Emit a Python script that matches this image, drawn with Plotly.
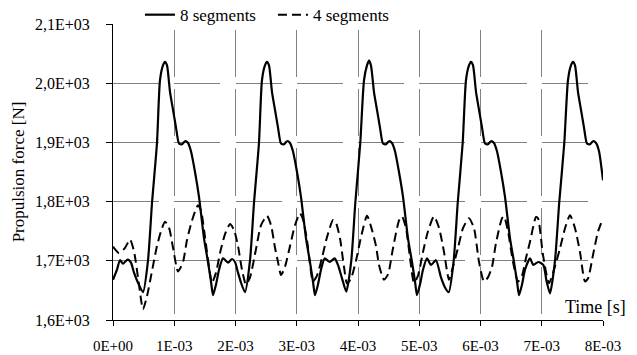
import plotly.graph_objects as go

# ---------------- data (time in ms, force in N) ----------------
t8_ms = [0.000, 0.065, 0.114, 0.163, 0.212, 0.245, 0.294, 0.343, 0.408, 0.490,
         0.571, 0.637, 0.718, 0.767, 0.816, 0.849,
         0.882, 0.931, 0.980, 1.029, 1.078, 1.127, 1.176, 1.225, 1.273, 1.339,
         1.404, 1.486, 1.551, 1.600, 1.633, 1.682, 1.731, 1.796, 1.878, 1.943,
         1.992, 2.041, 2.090, 2.155, 2.236, 2.302, 2.383, 2.432, 2.481, 2.514,
         2.547, 2.596, 2.645, 2.694, 2.743, 2.792, 2.841, 2.890, 2.938, 3.004,
         3.069, 3.151, 3.216, 3.265, 3.298, 3.347, 3.396, 3.456, 3.538, 3.619,
         3.673, 3.740, 3.809, 3.890, 3.956, 4.037, 4.098, 4.147, 4.180,
         4.212, 4.261, 4.310, 4.359, 4.408, 4.457, 4.506, 4.555, 4.604, 4.669,
         4.735, 4.816, 4.882, 4.931, 4.963, 5.012, 5.061, 5.127, 5.192, 5.273,
         5.355, 5.420, 5.481, 5.562, 5.628, 5.709, 5.763, 5.812, 5.845,
         5.878, 5.927, 5.976, 6.025, 6.074, 6.123, 6.171, 6.220, 6.269, 6.335,
         6.400, 6.482, 6.547, 6.596, 6.629, 6.678, 6.727, 6.808, 6.862, 6.944,
         7.025, 7.080, 7.135, 7.216, 7.285, 7.368, 7.428, 7.477, 7.510,
         7.543, 7.592, 7.641, 7.690, 7.739, 7.788, 7.837, 7.886, 7.935, 8.000]
f8 = [1668, 1685, 1701, 1695, 1700, 1702, 1697, 1680, 1663, 1647,
      1700, 1798, 1899, 2005, 2030, 2036,
      2030, 1985, 1955, 1925, 1898, 1897, 1902, 1899, 1885, 1850,
      1808, 1738, 1698, 1665, 1642, 1660, 1685, 1704, 1697, 1703,
      1698, 1680, 1663, 1647, 1700, 1798, 1899, 2005, 2030, 2036,
      2030, 1985, 1955, 1925, 1898, 1897, 1902, 1899, 1885, 1850,
      1808, 1738, 1698, 1665, 1642, 1660, 1685, 1704, 1698, 1704,
      1693, 1670, 1648, 1700, 1798, 1899, 2005, 2030, 2038,
      2030, 1985, 1955, 1925, 1898, 1897, 1902, 1899, 1885, 1850,
      1808, 1738, 1698, 1665, 1642, 1660, 1685, 1704, 1693, 1701,
      1672, 1655, 1647, 1700, 1798, 1899, 2005, 2030, 2036,
      2030, 1985, 1955, 1925, 1898, 1897, 1902, 1899, 1885, 1850,
      1808, 1738, 1698, 1665, 1642, 1660, 1685, 1704, 1693, 1698,
      1693, 1665, 1645, 1700, 1798, 1899, 2005, 2030, 2036,
      2030, 1985, 1955, 1925, 1898, 1897, 1902, 1899, 1885, 1836]

t4_ms = [0.000, 0.098, 0.196, 0.278, 0.343, 0.424, 0.490, 0.555, 0.637, 0.718,
         0.784, 0.849, 0.914, 0.980, 1.061, 1.143, 1.208, 1.290, 1.388, 1.437,
         1.502, 1.567, 1.616, 1.682, 1.747, 1.829, 1.910, 1.976, 2.041, 2.106,
         2.171, 2.237, 2.335, 2.416, 2.514, 2.580, 2.645, 2.694, 2.743, 2.808,
         2.890, 2.971, 3.053, 3.102, 3.167, 3.216, 3.265, 3.331, 3.412, 3.494,
         3.592, 3.641, 3.706, 3.771, 3.820, 3.886, 3.967, 4.049, 4.147, 4.229,
         4.294, 4.343, 4.424, 4.490, 4.571, 4.669, 4.718, 4.784, 4.849, 4.914,
         4.980, 5.061, 5.143, 5.241, 5.322, 5.404, 5.486, 5.551, 5.633, 5.714,
         5.812, 5.894, 5.976, 6.057, 6.122, 6.188, 6.253, 6.351, 6.384, 6.449,
         6.531, 6.612, 6.678, 6.743, 6.808, 6.906, 6.939, 7.020, 7.118, 7.200,
         7.298, 7.380, 7.461, 7.543, 7.624, 7.706, 7.755, 7.837, 7.918, 8.000]
f4 = [1724, 1713, 1722, 1736, 1716, 1660, 1618, 1640, 1683, 1725,
      1750, 1766, 1756, 1722, 1682, 1698, 1735, 1768, 1794, 1785,
      1740, 1690, 1663, 1680, 1713, 1745, 1762, 1752, 1725, 1685,
      1660, 1672, 1720, 1760, 1776, 1760, 1722, 1698, 1676, 1690,
      1725, 1760, 1780, 1770, 1735, 1695, 1665, 1675, 1705, 1740,
      1769, 1764, 1738, 1690, 1662, 1670, 1700, 1740, 1776, 1752,
      1725, 1693, 1668, 1677, 1721, 1768, 1775, 1755, 1705, 1663,
      1675, 1715, 1750, 1775, 1756, 1715, 1668, 1690, 1722, 1755,
      1772, 1755, 1698, 1665, 1672, 1690, 1730, 1772, 1775, 1750,
      1698, 1665, 1675, 1705, 1732, 1774, 1772, 1710, 1662, 1685,
      1721, 1755, 1777, 1755, 1715, 1665, 1670, 1710, 1749, 1772]

x_tickvals_ms = [0, 1, 2, 3, 4, 5, 6, 7, 8]
x_ticktext = ["0E+00", "1E-03", "2E-03", "3E-03", "4E-03", "5E-03", "6E-03", "7E-03", "8E-03"]
y_tickvals = [1600, 1700, 1800, 1900, 2000, 2100]
y_ticktext = ["1,6E+03", "1,7E+03", "1,8E+03", "1,9E+03", "2,0E+03", "2,1E+03"]
series_names = ["8 segments", "4 segments"]

# ---------------- figure ----------------
t8 = [v * 1e-3 for v in t8_ms]
t4 = [v * 1e-3 for v in t4_ms]
xt = [v * 1e-3 for v in x_tickvals_ms]

FONT = "Liberation Serif"

fig = go.Figure()
fig.add_trace(go.Scatter(x=t8, y=f8, mode="lines", name=series_names[0],
                         line=dict(color="black", width=2.2, shape="spline", smoothing=0.6)))
fig.add_trace(go.Scatter(x=t4, y=f4, mode="lines", name=series_names[1],
                         line=dict(color="black", width=2.0, dash="9px,5px",
                                   shape="spline", smoothing=0.6)))

fig.update_layout(
    width=637, height=355,
    margin=dict(l=113, r=34, t=24, b=35, autoexpand=False),
    paper_bgcolor="white", plot_bgcolor="white",
    font=dict(family=FONT, size=16, color="black"),
    showlegend=True,
    legend=dict(orientation="h", x=0.055, xanchor="left", y=1.03, yanchor="middle",
                bgcolor="rgba(0,0,0,0)", font=dict(size=17, family=FONT),
                entrywidth=88, entrywidthmode="pixels", itemwidth=30,
                borderwidth=0),
    xaxis=dict(range=[0, 0.008], tickmode="array", tickvals=xt, ticktext=x_ticktext,
               showline=True, linecolor="black", linewidth=1,
               ticks="outside", ticklen=5, tickcolor="black",
               showgrid=True, gridcolor="#808080", gridwidth=1.2,
               griddash="0px,6px,47.2px,6px",
               zeroline=False, ticklabelstandoff=7,
               tickfont=dict(size=15, family=FONT)),
    yaxis=dict(range=[1600, 2100], tickmode="array", tickvals=y_tickvals, ticktext=y_ticktext,
               showline=True, linecolor="black", linewidth=1,
               ticks="outside", ticklen=6, tickcolor="black",
               showgrid=True, gridcolor="#808080", gridwidth=1.2,
               griddash="46px,15.25px",
               zeroline=False, ticklabelstandoff=13,
               tickfont=dict(size=16, family=FONT),
               title=dict(text="Propulsion force [N]", font=dict(size=17, family=FONT), standoff=6)),
    annotations=[dict(text="Time [s]", xref="paper", yref="paper", x=1.051, y=0.044,
                      xanchor="right", yanchor="middle", showarrow=False,
                      font=dict(size=18, family=FONT))],
)

# remove the default 8px page margin so the 637x355 figure fills the window exactly
fig.write_html("out.html", config={"displayModeBar": False},
               post_script="document.body.style.margin='0px';")
